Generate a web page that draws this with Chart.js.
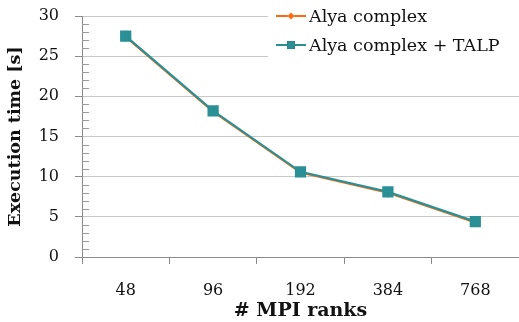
<!DOCTYPE html>
<html lang="en">
<head>
    <meta charset="UTF-8">
    <title>Alya complex - execution time</title>
    <script src="https://cdn.jsdelivr.net/npm/chart.js"></script>
    <style>
        html, body {
            margin: 0;
            padding: 0;
            background: #fff;
        }

        .chart-box {
            width: 519px;
            height: 322px;
        }
    </style>
</head>
<body>

    <div class="chart-box">
        <canvas id="grafTiempo" width="519" height="322"></canvas>
    </div>

    <script>
        // datos
        const ranks = ['48', '96', '192', '384', '768'];
        const alyaComplex = [27.4, 18.1, 10.5, 8.0, 4.3];
        const alyaTalp = [27.5, 18.2, 10.6, 8.1, 4.4];
        const serieNames = ['Alya complex', 'Alya complex + TALP'];

        const naranja = '#ff6a0f';
        const verdeAzul = '#2b9096';
        const serif = "'DejaVu Serif', serif";

        // ticks menores del eje y (cada 1 unidad, hacia adentro)
        const minorTicks = {
            id: 'minorTicks',
            afterDatasetsDraw(chart) {
                const y = chart.scales.y;
                const ctx = chart.ctx;
                ctx.save();
                ctx.strokeStyle = '#9a9a9a';
                ctx.lineWidth = 1;
                for (let v = y.min; v <= y.max; v++) {
                    if (v % 5 === 0) continue;
                    const py = Math.round(y.getPixelForValue(v)) + 0.5;
                    ctx.beginPath();
                    ctx.moveTo(chart.chartArea.left, py);
                    ctx.lineTo(chart.chartArea.left + 7, py);
                    ctx.stroke();
                }
                ctx.restore();
            }
        };

        // leyenda arriba a la derecha, sobre el area del grafico
        const leyenda = {
            id: 'leyenda',
            afterDraw(chart) {
                const ctx = chart.ctx;
                ctx.save();
                ctx.fillStyle = '#fff';
                ctx.fillRect(268, 0, 251, 60);
                ctx.font = '17.5px ' + serif;
                ctx.textBaseline = 'middle';
                const items = [
                    { ds: chart.data.datasets[0], y: 16 },
                    { ds: chart.data.datasets[1], y: 45 }
                ];
                items.forEach(it => {
                    ctx.strokeStyle = it.ds.borderColor;
                    ctx.lineWidth = 2;
                    ctx.beginPath();
                    ctx.moveTo(276, it.y);
                    ctx.lineTo(306, it.y);
                    ctx.stroke();
                    Chart.helpers.drawPoint(ctx, {
                        pointStyle: it.ds.pointStyle,
                        radius: it.ds.pointStyle === 'rect' ? 5.5 : 3.5,
                        borderWidth: 0
                    }, 291, it.y);
                    ctx.fillStyle = it.ds.borderColor;
                    ctx.fill();
                    ctx.fillStyle = '#111';
                    ctx.fillText(it.ds.label, 309, it.y + 1);
                });
                ctx.restore();
            }
        };

        new Chart(grafTiempo, {
            type: 'line',
            data: {
                labels: ranks,
                datasets: [{
                    label: serieNames[0],
                    data: alyaComplex,
                    borderColor: naranja,
                    backgroundColor: naranja,
                    borderWidth: 2,
                    pointStyle: 'rectRot',
                    pointRadius: 3.5,
                    order: 2
                }, {
                    label: serieNames[1],
                    data: alyaTalp,
                    borderColor: verdeAzul,
                    backgroundColor: verdeAzul,
                    borderWidth: 2.2,
                    pointStyle: 'rect',
                    pointRadius: 6.4,
                    order: 1
                }]
            },
            options: {
                responsive: false,
                animation: false,
                layout: {
                    autoPadding: false,
                    padding: { top: 16, right: 0, left: 0, bottom: 0 }
                },
                plugins: {
                    legend: { display: false },
                    tooltip: { enabled: false }
                },
                scales: {
                    x: {
                        offset: true,
                        grid: {
                            offset: true,
                            drawOnChartArea: false,
                            tickLength: 7,
                            color: '#8a8a8a'
                        },
                        border: { color: '#8a8a8a' },
                        ticks: {
                            padding: 17,
                            color: '#111',
                            font: { family: serif, size: 16 }
                        },
                        title: {
                            display: true,
                            text: '# MPI ranks',
                            color: '#111',
                            padding: { top: 0, bottom: 0 },
                            font: { family: serif, size: 19, weight: 'bold' }
                        },
                        afterFit(scale) {
                            scale.height = 65;
                            scale.paddingLeft = 0;
                            scale.paddingRight = 0;
                        }
                    },
                    y: {
                        min: 0,
                        max: 30,
                        grid: {
                            color: ctx => ctx.tick && ctx.tick.value === 0 ? '#8a8a8a' : '#c8c8c8',
                            tickLength: 7,
                            tickColor: '#8a8a8a'
                        },
                        border: { color: '#8a8a8a' },
                        ticks: {
                            stepSize: 5,
                            padding: 16,
                            color: '#111',
                            font: { family: serif, size: 16 }
                        },
                        title: {
                            display: true,
                            text: 'Execution time [s]',
                            color: '#111',
                            padding: { top: 5, bottom: 0 },
                            font: { family: serif, size: 17.5, weight: 'bold' }
                        },
                        afterFit(scale) {
                            scale.width = 82;
                            scale.paddingTop = 0;
                            scale.paddingBottom = 0;
                        }
                    }
                }
            },
            plugins: [minorTicks, leyenda]
        });
    </script>

</body>
</html>
